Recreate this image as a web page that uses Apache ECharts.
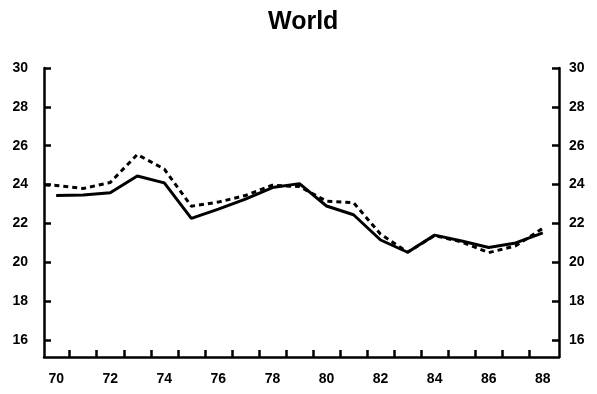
<!DOCTYPE html>
<html>
<head>
<meta charset="utf-8">
<script src="https://cdn.jsdelivr.net/npm/echarts@6/dist/echarts.min.js"></script>
<style>
  html, body { margin: 0; padding: 0; background: #fff; }
  #chart { width: 597px; height: 394px; }
</style>
</head>
<body>
<div id="chart"></div>
<script>
// Years (19xx) along the bottom axis
const years = [70, 71, 72, 73, 74, 75, 76, 77, 78, 79, 80, 81, 82, 83, 84, 85, 86, 87, 88];
// Solid series
const solidValues = [23.44, 23.47, 23.58, 24.44, 24.09, 22.26, 22.74, 23.25, 23.85, 24.05,
                     22.9, 22.45, 21.15, 20.52, 21.4, 21.1, 20.76, 21.0, 21.52];
// Dashed series (starts slightly before 1970)
const dashedStartYear = 69.6;
const dashedStartValue = 23.98;
const dashedValues = [23.96, 23.8, 24.11, 25.55, 24.8, 22.89, 23.1, 23.44, 23.97, 23.9,
                      23.15, 23.07, 21.45, 20.52, 21.38, 21.05, 20.5, 20.85, 21.75];
// Axis tick labels and tick positions
const xLabels = [70, 72, 74, 76, 78, 80, 82, 84, 86, 88];
const xTicks = [70.5, 71.5, 72.5, 73.5, 74.5, 75.5, 76.5, 77.5, 78.5, 79.5,
                80.5, 81.5, 82.5, 83.5, 84.5, 85.5, 86.5, 87.5];
const yLabels = [16, 18, 20, 22, 24, 26, 28, 30];

const solidData = years.map((y, i) => [y, solidValues[i]]);
const dashedData = [[dashedStartYear, dashedStartValue]].concat(years.map((y, i) => [y, dashedValues[i]]));

const font = '"Liberation Sans", Arial, sans-serif';
const ink = '#000';

function yAxis(position, margin) {
  return {
    type: 'value',
    position: position,
    min: 15.13,
    max: 30,
    axisLine: { show: true, lineStyle: { color: ink, width: 2.5 } },
    axisTick: { show: true, inside: true, length: 7, customValues: yLabels,
                lineStyle: { color: ink, width: 2.5 } },
    axisLabel: { customValues: yLabels, margin: margin, color: ink,
                 fontFamily: font, fontWeight: 'bold', fontSize: 14 },
    splitLine: { show: false }
  };
}

const chart = echarts.init(document.getElementById('chart'), null, { renderer: 'canvas' });
chart.setOption({
  backgroundColor: '#fff',
  animation: false,
  title: {
    text: 'World',
    left: 263,
    top: 5,
    textStyle: { color: ink, fontFamily: font, fontWeight: 'bold', fontSize: 25 }
  },
  grid: { left: 44, right: 38, top: 68, bottom: 37 },
  xAxis: {
    type: 'value',
    min: 69.55,
    max: 88.6,
    axisLine: { show: true, onZero: false, lineStyle: { color: ink, width: 2.5 } },
    axisTick: { show: true, inside: true, length: 7, customValues: xTicks,
                lineStyle: { color: ink, width: 2.5 } },
    axisLabel: { customValues: xLabels, margin: 15, color: ink,
                 fontFamily: font, fontWeight: 'bold', fontSize: 14 },
    splitLine: { show: false }
  },
  yAxis: [yAxis('left', 16), yAxis('right', 10)],
  series: [
    {
      type: 'line',
      data: solidData,
      showSymbol: false,
      symbol: 'none',
      lineStyle: { color: ink, width: 3 },
      z: 3
    },
    {
      type: 'line',
      data: dashedData,
      showSymbol: false,
      symbol: 'none',
      lineStyle: { color: ink, width: 3, type: [5, 4] },
      z: 2
    }
  ]
});
</script>
</body>
</html>
